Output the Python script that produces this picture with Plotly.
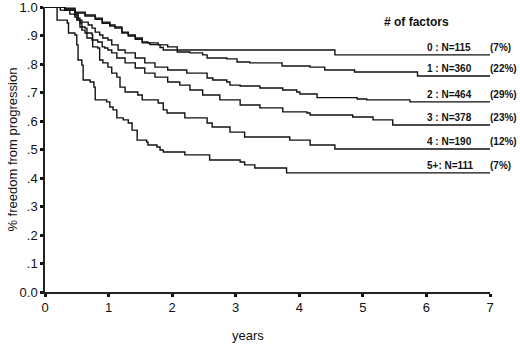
import plotly.graph_objects as go

# Kaplan-Meier style step curves: step times (years) and survival after each step
t0 = [0, 0.19, 0.31, 0.47, 0.63, 0.79, 0.90, 1.02, 1.10, 1.21, 1.31, 1.42, 1.53, 1.62, 1.78, 1.93, 2.08, 4.56, 7.0]
s0 = [1.0, 1.0, 0.996, 0.982, 0.972, 0.961, 0.947, 0.937, 0.930, 0.912, 0.902, 0.891, 0.877, 0.874, 0.867, 0.860, 0.849, 0.832, 0.832]

t1 = [0, 0.19, 0.31, 0.47, 0.63, 0.79, 0.90, 1.02, 1.10, 1.21, 1.31, 1.42, 1.53, 1.65, 1.81, 1.86, 2.08, 2.28, 2.48, 2.55, 2.86, 3.02, 3.22, 3.73, 4.17, 4.40, 4.87, 5.86, 7.0]
s1 = [1.0, 1.0, 0.993, 0.979, 0.968, 0.957, 0.943, 0.933, 0.926, 0.909, 0.898, 0.887, 0.874, 0.868, 0.858, 0.849, 0.842, 0.839, 0.832, 0.821, 0.818, 0.807, 0.804, 0.793, 0.789, 0.779, 0.772, 0.758, 0.758]

t2 = [0, 0.19, 0.31, 0.47, 0.52, 0.58, 0.68, 0.74, 0.79, 0.86, 0.91, 0.99, 1.05, 1.15, 1.26, 1.42, 1.57, 1.73, 1.93, 2.23, 2.55, 2.64, 2.86, 2.91, 3.07, 3.38, 3.74, 3.96, 4.01, 4.28, 4.91, 5.06, 5.74, 7.0]
s2 = [1.0, 1.0, 0.989, 0.972, 0.954, 0.947, 0.937, 0.926, 0.912, 0.902, 0.891, 0.884, 0.867, 0.849, 0.839, 0.821, 0.804, 0.789, 0.779, 0.768, 0.751, 0.744, 0.737, 0.726, 0.723, 0.716, 0.709, 0.702, 0.695, 0.682, 0.677, 0.674, 0.667, 0.667]

t3 = [0, 0.19, 0.31, 0.47, 0.52, 0.55, 0.63, 0.66, 0.74, 0.75, 0.83, 0.90, 0.94, 0.99, 1.05, 1.13, 1.26, 1.42, 1.57, 1.73, 1.93, 2.12, 2.28, 2.48, 2.75, 3.07, 3.38, 3.74, 4.12, 4.17, 4.84, 5.16, 5.47, 7.0]
s3 = [1.0, 1.0, 0.989, 0.975, 0.961, 0.930, 0.926, 0.909, 0.902, 0.884, 0.877, 0.860, 0.856, 0.849, 0.839, 0.821, 0.804, 0.786, 0.768, 0.754, 0.737, 0.726, 0.709, 0.691, 0.674, 0.656, 0.646, 0.632, 0.628, 0.621, 0.614, 0.604, 0.586, 0.586]

t4 = [0, 0.24, 0.39, 0.47, 0.50, 0.55, 0.58, 0.63, 0.66, 0.74, 0.75, 0.83, 0.86, 0.91, 0.99, 1.05, 1.13, 1.18, 1.26, 1.46, 1.53, 1.78, 1.86, 1.92, 2.20, 2.55, 2.63, 2.91, 3.14, 3.85, 4.17, 4.56, 7.0]
s4 = [1.0, 0.989, 0.975, 0.965, 0.954, 0.944, 0.919, 0.909, 0.891, 0.884, 0.860, 0.856, 0.814, 0.804, 0.789, 0.768, 0.754, 0.719, 0.702, 0.691, 0.674, 0.663, 0.639, 0.628, 0.611, 0.593, 0.579, 0.561, 0.544, 0.533, 0.516, 0.502, 0.502]

t5 = [0, 0.19, 0.35, 0.37, 0.47, 0.50, 0.52, 0.58, 0.60, 0.71, 0.77, 0.79, 0.97, 1.02, 1.07, 1.13, 1.23, 1.31, 1.37, 1.45, 1.60, 1.62, 1.76, 1.81, 1.86, 2.20, 2.59, 3.07, 3.14, 3.30, 3.80, 7.0]
s5 = [1.0, 0.954, 0.944, 0.909, 0.902, 0.867, 0.814, 0.796, 0.744, 0.737, 0.719, 0.674, 0.667, 0.649, 0.639, 0.611, 0.604, 0.593, 0.568, 0.533, 0.526, 0.516, 0.509, 0.498, 0.491, 0.481, 0.463, 0.456, 0.446, 0.435, 0.418, 0.418]

factor_labels = ["0", "1", "2", "3", "4", "5+"]
n_values = [115, 360, 464, 378, 190, 111]
pct_values = [7, 22, 29, 23, 12, 7]

x_ticks = [0, 1, 2, 3, 4, 5, 6, 7]
y_ticks = [0.0, 0.1, 0.2, 0.3, 0.4, 0.5, 0.6, 0.7, 0.8, 0.9, 1.0]
y_ticktext = ["0.0", ".1", ".2", ".3", ".4", ".5", ".6", ".7", ".8", ".9", "1.0"]

times = [t0, t1, t2, t3, t4, t5]
survs = [s0, s1, s2, s3, s4, s5]

FONT = "Arial, Liberation Sans, sans-serif"

fig = go.Figure()
for lab, t, s in zip(factor_labels, times, survs):
    fig.add_trace(go.Scatter(x=t, y=s, mode="lines", line=dict(shape="hv", color="#111111", width=1.4),
                             name=lab, showlegend=False, hoverinfo="skip", cliponaxis=False))

annotations = []
for lab, n, p, s in zip(factor_labels, n_values, pct_values, survs):
    left = f"{lab} : N={n}" if len(lab) == 1 else f"{lab}: N={n}"
    annotations.append(dict(x=5.975, y=s[-1], xref="x", yref="y", text=f"<b>{left}</b>",
                            showarrow=False, xanchor="left", yanchor="bottom", yshift=0,
                            font=dict(family=FONT, size=10, color="#111")))
    annotations.append(dict(x=6.97, y=s[-1], xref="x", yref="y", text=f"<b>({p}%)</b>",
                            showarrow=False, xanchor="left", yanchor="bottom", yshift=0,
                            font=dict(family=FONT, size=10, color="#111")))

annotations.append(dict(x=5.85, y=0.947, xref="x", yref="y", text="<b># of factors</b>",
                        showarrow=False, xanchor="center", yanchor="middle",
                        font=dict(family=FONT, size=12, color="#111")))
annotations.append(dict(x=3.19, y=-0.154, xref="x", yref="paper", text="years",
                        showarrow=False, xanchor="center", yanchor="middle",
                        font=dict(family=FONT, size=13, color="#111")))
annotations.append(dict(x=-0.074, y=0.5, xref="paper", yref="paper", text="% freedom from progression",
                        showarrow=False, textangle=-90, xanchor="center", yanchor="middle",
                        font=dict(family=FONT, size=13, color="#111")))

fig.update_layout(
    width=520, height=345,
    margin=dict(l=45, r=30, t=7, b=53),
    paper_bgcolor="white", plot_bgcolor="white",
    annotations=annotations,
    font=dict(family=FONT, size=13, color="#111"),
)
fig.update_xaxes(range=[0, 7], tickvals=x_ticks, ticks="outside", ticklen=3, tickwidth=3,
                 tickcolor="#111", showline=True, linecolor="#222", linewidth=1.5,
                 showgrid=False, zeroline=False, tickfont=dict(size=13),
                 ticklabeloverflow="allow", automargin=False)
fig.update_yaxes(range=[0, 1.0], tickvals=y_ticks, ticktext=y_ticktext, ticks="outside",
                 ticklen=3, tickwidth=3, tickcolor="#111", showline=True, linecolor="#222",
                 linewidth=1.5, showgrid=False, zeroline=False, tickfont=dict(size=13),
                 ticklabeloverflow="allow", automargin=False)

fig.write_html("out.html", config={"displayModeBar": False},
               post_script="document.body.style.margin='0px';document.body.style.overflow='hidden';")
